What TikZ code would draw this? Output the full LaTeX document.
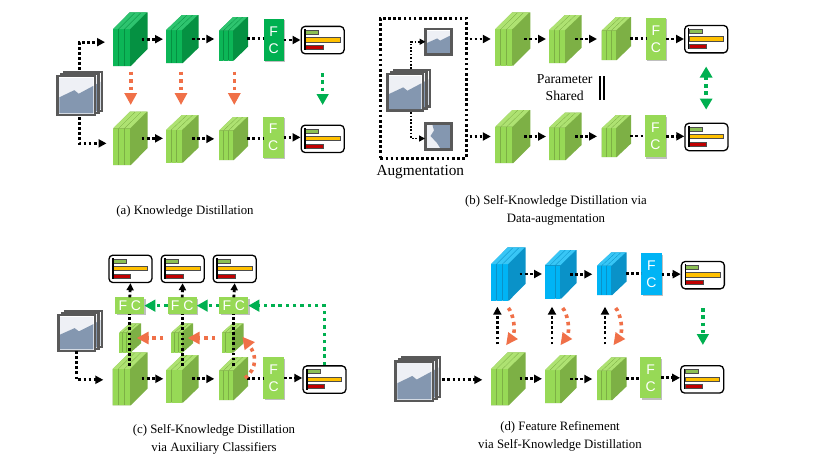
\documentclass[tikz,border=0pt]{standalone}
\usepackage{fontspec}
\setmainfont{Liberation Serif}
\newfontfamily\labelsans{Liberation Sans}
\usetikzlibrary{arrows.meta,shadows,calc}

\definecolor{dkfront}{HTML}{0CB657}\definecolor{dktop}{HTML}{2EC46F}\definecolor{dkside}{HTML}{059142}
\definecolor{ltfront}{HTML}{97D956}\definecolor{lttop}{HTML}{AEE272}\definecolor{ltside}{HTML}{7DB045}
\definecolor{blfront}{HTML}{00B4F5}\definecolor{bltop}{HTML}{38C6F6}\definecolor{blside}{HTML}{0A92C8}
\definecolor{kdorange}{HTML}{F07048}
\definecolor{kdgreen}{HTML}{00B050}
\definecolor{framegrey}{HTML}{595959}
\definecolor{picsky}{HTML}{EEF0F5}
\definecolor{picland}{HTML}{8497B0}
\definecolor{barg}{HTML}{8CBF55}\definecolor{bary}{HTML}{FFC000}\definecolor{barr}{HTML}{C00000}

\tikzset{
  dots/.style={black,line width=2.8pt,dash pattern=on 2.7pt off 2.4pt},
  flow/.style={dots,-{Triangle[length=8pt,width=8pt]}},
  plainflow/.style={dots},
  thinflow/.style={black,line width=1.7pt,dash pattern=on 1.7pt off 1.7pt,-{Triangle[length=6pt,width=6pt]}},
  teach/.style={kdorange,line width=3.6pt,dash pattern=on 3.5pt off 4pt,-{Triangle[length=12pt,width=12pt]}},
  logit/.style={kdgreen,line width=3.6pt,dash pattern=on 3.5pt off 3.8pt,-{Triangle[length=11pt,width=11.5pt]}},
  logitboth/.style={kdgreen,line width=3.6pt,dash pattern=on 3.5pt off 3.8pt,{Triangle[length=11pt,width=12pt]}-{Triangle[length=11pt,width=12pt]}},
  softshadow/.style={drop shadow={shadow xshift=1.3pt,shadow yshift=-1.3pt,opacity=.25,fill=black}},
  capt/.style={font=\fontsize{12.8}{18}\selectfont,align=center,inner sep=0pt},
  fcbox/.style={inner sep=0pt,outer sep=0pt,anchor=north west,softshadow,text=white,align=center,
    font=\labelsans\fontsize{14}{17}\selectfont},
}

% Feature map: three stacked slabs with a shaded side face
\newcommand{\layer}[6]{%
  \pgfmathsetmacro{\lyW}{#4-#2}\pgfmathsetmacro{\lyH}{#5-#3}%
  \pgfmathsetmacro{\lyDx}{.486*\lyW}\pgfmathsetmacro{\lyDy}{.32*\lyH}%
  \pgfmathsetmacro{\lyS}{.514*\lyW/3}\pgfmathsetmacro{\lyF}{#3+\lyDy}%
  \pgfmathsetmacro{\lyR}{#2+3*\lyS}%
  \node[inner sep=0pt,outer sep=0pt,anchor=north west,minimum width=\lyW pt,minimum height=\lyH pt] (#1) at (#2,#3) {};
  \fill[#6side] (#2,\lyF) -- (#2+\lyDx,#3) -- (#4,#3) -- (#4,#5-\lyDy) -- (\lyR,#5) -- (#2,#5) -- cycle;
  \foreach \slab in {0,1,2}{%
    \pgfmathsetmacro{\slabL}{#2+\slab*\lyS}\pgfmathsetmacro{\slabR}{\slabL+\lyS-.9}%
    \fill[#6front] (\slabL,\lyF) rectangle (\slabR,#5);
    \fill[#6top] (\slabL,\lyF-.3) -- (\slabL+\lyDx,#3) -- (\slabR+\lyDx,#3) -- (\slabR,\lyF-.3) -- cycle;
  }
}
% Fully connected head
\newcommand{\fchead}[7]{%
  \pgfmathsetmacro{\lyW}{#4-#2}\pgfmathsetmacro{\lyH}{#5-#3}%
  \node[fcbox,fill=#6,minimum width=\lyW pt,minimum height=\lyH pt] (#1) at (#2,#3) {#7};
}
% Class-score chart
\newcommand{\scores}[3]{%
  \node[draw=black,line width=1.3pt,fill=white,rounded corners=4pt,inner sep=0pt,anchor=north west,
        minimum width=43pt,minimum height=27.4pt] (#1) at (#2,#3) {};
  \begin{scope}[shift={(#2,#3)},draw=black!70,line width=.7pt]
    \filldraw[fill=barg] (5,4.4) rectangle (18,8.4);
    \filldraw[fill=bary] (5,12) rectangle (39.5,16.2);
    \filldraw[fill=barr] (5,19.4) rectangle (22.5,23.6);
    \draw[black,line width=1.4pt] (4.6,3.6) -- (4.6,24.4);
  \end{scope}
}
% One framed picture
\newcommand{\framedpic}[4]{%
  \filldraw[draw=framegrey,line width=2.6pt,fill=white,softshadow] (#1,#2) rectangle (#3,#4);
  \pgfmathsetmacro{\pW}{(#3)-(#1)-3.4}\pgfmathsetmacro{\pH}{(#4)-(#2)-3.4}%
  \begin{scope}[shift={({#1+1.7},{#2+1.7})},x=\pW pt,y=-\pH pt]
    \fill[picsky] (0,0) rectangle (1,1);
    \fill[picland] (0,.55) -- (.44,.35) -- (.57,.45) -- (1,.23) -- (1,1) -- (0,1) -- cycle;
  \end{scope}
}
% Stack of input pictures with a bounding node
\newcommand{\picstack}[5]{%
  \framedpic{#2+7}{#3-4}{#4+7}{#5-4}
  \framedpic{#2+3.5}{#3-2}{#4+3.5}{#5-2}
  \framedpic{#2}{#3}{#4}{#5}
  \pgfmathsetmacro{\lyW}{#4-#2}\pgfmathsetmacro{\lyH}{#5-#3}%
  \node[inner sep=0pt,outer sep=0pt,anchor=north west,minimum width=\lyW pt,minimum height=\lyH pt] (#1) at (#2,#3) {};
}
% Horizontal connector along the row of its source node
\newcommand{\rowlink}[5]{\draw[#1] ([xshift=#3pt]#2.east) -- ([xshift=#5pt]#4.west |- #2.east);}
% The connectors of one network row
\newcommand{\netrow}[5]{%
  \rowlink{flow}{#1}{-6}{#2}{-3}
  \rowlink{flow}{#2}{-6.5}{#3}{-4.7}
  \rowlink{plainflow}{#3}{-.7}{#4}{0}
  \rowlink{flow}{#4}{0}{#5}{0}
}

\begin{document}
\begin{tikzpicture}[x=1pt,y=-1pt]
\useasboundingbox (0,0) rectangle (830,467);
\fill[white] (0,0) rectangle (830,467);

% ---- Knowledge distillation
\picstack{ainput}{57.7}{76}{95}{115}
\layer{at}{113}{12.3}{147.7}{66}{dk}
\layer{bt}{166}{15}{198.7}{63}{dk}
\layer{ct}{219}{17}{248}{60.5}{dk}
\fchead{ft}{263.7}{19}{283.7}{61}{kdgreen}{F\\C}
\scores{st}{300.5}{25.7}
\layer{ab}{113}{111.7}{147.7}{165}{lt}
\layer{bb}{166}{115}{198.7}{162.7}{lt}
\layer{cb}{219}{117}{248}{160}{lt}
\fchead{fb}{263}{117}{283.5}{157.7}{ltfront}{F\\C}
\scores{sb}{300.5}{124.5}
\netrow{at}{bt}{ct}{ft}{st}
\netrow{ab}{bb}{cb}{fb}{sb}
\draw[flow] ([xshift=3pt,yshift=6pt]ainput.north) |- ([xshift=-8pt,yshift=-3pt]at.west);
\draw[flow] ([xshift=3pt,yshift=-2pt]ainput.south) |- ([xshift=-6.5pt,yshift=-5pt]ab.west);
\foreach \src/\c in {at/.35,bt/-1.35,ct/.8}{
  \draw[teach] ([xshift=\c pt,yshift=-5.7pt]\src.south |- at.south) -- ([xshift=\c pt,yshift=6.7pt]\src.south |- ab.north);
}
\draw[logit] ([yshift=-18.6pt]st.south) -- ([yshift=19.5pt]st.south |- sb.north);
\node[capt] (capa) at (185,211.7) {(a) Knowledge Distillation};

% ---- Self-knowledge distillation via data augmentation
\node[dots,draw=black,inner sep=0pt,anchor=north west,
      minimum width=85.7pt,minimum height=140pt] (augbox) at (379,16.7) {};
\picstack{binput}{387.3}{74}{423}{110.7}
\framedpic{425.5}{29}{451.5}{54.5}
\node[inner sep=0pt,outer sep=0pt,anchor=north west,minimum width=26pt,minimum height=25.5pt] (augtop) at (425.5,29) {};
\filldraw[draw=framegrey,line width=2.6pt,fill=picsky,softshadow] (425.5,123.5) rectangle (451.5,149.5);
\node[inner sep=0pt,outer sep=0pt,anchor=north west,minimum width=26pt,minimum height=26pt] (augbot) at (425.5,123.5) {};
\fill[picland] (432.5,125.2) -- (434,130.5) -- (430.5,136) -- (437,143) -- (440,147.8) -- (449.8,147.8) -- (449.8,125.2) -- cycle;
\draw[thinflow] ([xshift=6pt,yshift=5pt]binput.north) |- (augtop.west);
\draw[thinflow] ([xshift=6pt,yshift=-1.5pt]binput.south) |- ([xshift=-.5pt,yshift=-2pt]augbot.west);
\layer{dt}{495.3}{12.3}{530.3}{65.7}{lt}
\layer{et}{549}{15}{581.7}{63}{lt}
\layer{gt}{601.7}{17}{631}{60}{lt}
\fchead{ht}{645.7}{18}{666}{60}{ltfront}{F\\C}
\scores{kt}{684}{24.8}
\layer{db}{495.3}{110}{530.3}{163}{lt}
\layer{eb}{549}{112.7}{581.7}{160}{lt}
\layer{gb}{601.7}{115}{631}{157}{lt}
\fchead{hb}{645}{115.3}{666}{157.3}{ltfront}{F\\C}
\scores{kb}{684.3}{122.6}
\netrow{dt}{et}{gt}{ht}{kt}
\netrow{db}{eb}{gb}{hb}{kb}
\draw[flow] ([xshift=2pt]augbox.east |- dt.west) -- ([xshift=-4.5pt]dt.west);
\draw[flow] ([xshift=2pt]augbox.east |- db.west) -- ([xshift=-4.5pt]db.west);
\draw[logitboth] ([yshift=-13pt]kt.south) -- ([yshift=13pt]kt.south |- kb.north);
\node[font=\fontsize{13.7}{17}\selectfont,align=center,inner sep=0pt] (shared) at (564.7,87.5) {Parameter\\Shared};
\coordinate (eqa) at (600,76);\coordinate (eqb) at (600,100);
\draw[black,line width=1.5pt] (eqa) -- (eqb);
\draw[black,line width=1.5pt] ([xshift=4pt]eqa) -- ([xshift=4pt]eqb);
\node[font=\fontsize{15.3}{18}\selectfont,inner sep=0pt] (auglabel) at (420.3,172) {Augmentation};
\node[capt] (capb) at (556,210.7) {(b) Self-Knowledge Distillation via\\Data-augmentation};

% ---- Self-knowledge distillation via auxiliary classifiers
\picstack{cinput}{58.3}{315}{95}{351}
\layer{p1}{112.7}{352.3}{147.7}{405.3}{lt}
\layer{p2}{166.3}{355}{198.7}{402.7}{lt}
\layer{p3}{219}{357}{248}{400}{lt}
\fchead{pf}{263.3}{357.3}{284}{398.7}{ltfront}{F\\C}
\scores{ps}{302.3}{365.2}
\layer{q1}{119.3}{323.3}{141}{352.7}{lt}
\layer{q2}{171.3}{323.3}{193}{352.7}{lt}
\layer{q3}{222}{323.3}{243.7}{352.7}{lt}
\fchead{r1}{115.3}{297.3}{144.3}{314}{ltfront}{F C}
\fchead{r2}{167.7}{297.3}{196.7}{314}{ltfront}{F C}
\fchead{r3}{219.3}{297.3}{248.3}{314}{ltfront}{F C}
\scores{s1}{108.3}{254.5}
\scores{s2}{160.5}{254.5}
\scores{s3}{212.5}{254.5}
\netrow{p1}{p2}{p3}{pf}{ps}
\draw[flow] (cinput.south) |- ([xshift=-9.4pt,yshift=-1pt]p1.west);
\foreach \i in {1,2,3}{
  \draw[plainflow] ([yshift=13pt]r\i.south |- p\i.center) -- (r\i.south);
  \draw[dots,-{Triangle[length=7pt,width=7pt]}] (r\i.north) -- (s\i.south);
}
\draw[logit] (ps.north) |- (r3.east);
\draw[logit] (r3.west) -- (r2.east);
\draw[logit] (r2.west) -- (r1.east);
\draw[teach] ([xshift=-8pt]q2.west) -- ([xshift=-4.3pt]q1.east |- q2.west);
\draw[teach] ([xshift=-7pt]q3.west) -- ([xshift=-5.3pt]q2.east |- q3.west);
\coordinate (hookfrom) at (245,378);
\draw[teach] (hookfrom) .. controls (258,368) and (256,354) .. ([xshift=-1.4pt,yshift=1.3pt]q3.east);
\node[capt] (capc) at (214,439.7) {(c) Self-Knowledge Distillation\\via Auxiliary Classifiers};

% ---- Feature refinement via self-knowledge distillation
\picstack{dinput}{395.7}{361.7}{433}{401}
\layer{u1}{491}{247.3}{525.7}{300.7}{bl}
\layer{u2}{545}{250}{576.7}{298.5}{bl}
\layer{u3}{597}{252.3}{626.7}{295}{bl}
\fchead{uf}{641.3}{253.3}{661.7}{295}{blfront}{F\\C}
\scores{us}{680.7}{260.8}
\layer{v1}{491}{352.3}{525.7}{405.3}{lt}
\layer{v2}{545}{355}{576.7}{403}{lt}
\layer{v3}{597}{357.3}{626.7}{400}{lt}
\fchead{vf}{640.3}{357.3}{661}{398.3}{ltfront}{F\\C}
\scores{vs}{680}{365}
\netrow{u1}{u2}{u3}{uf}{us}
\netrow{v1}{v2}{v3}{vf}{vs}
\draw[flow] ([xshift=9.3pt,yshift=-1pt]dinput.east |- v1.west) -- ([xshift=-8.7pt,yshift=-1pt]v1.west);
\foreach \a/\b/\c in {u1/v1/-11,u2/v2/-8.85,u3/v3/-6.85}{
  \draw[flow] ([xshift=\c pt,yshift=8pt]\b.north |- v1.north) -- ([xshift=\c pt,yshift=-6pt]\b.north |- u1.south);
}
\foreach \b/\c in {u1/0,u2/1.85,u3/3.85}{
  \coordinate (bendtop) at ([xshift=\c pt,yshift=-7.3pt]\b.south |- u1.south);
  \draw[teach,-{Triangle[length=12pt,width=11pt]}] (bendtop) .. controls ([xshift=4.7pt,yshift=-5pt]bendtop) and ([xshift=8pt,yshift=-23pt]bendtop) .. ([xshift=-2.3pt,yshift=-37.3pt]bendtop);
}
\draw[logit] ([yshift=-18.5pt]us.south) -- ([yshift=20pt]us.south |- vs.north);
\node[capt] (capd) at (560,436.7) {(d) Feature Refinement\\via Self-Knowledge Distillation};
\end{tikzpicture}
\end{document}
